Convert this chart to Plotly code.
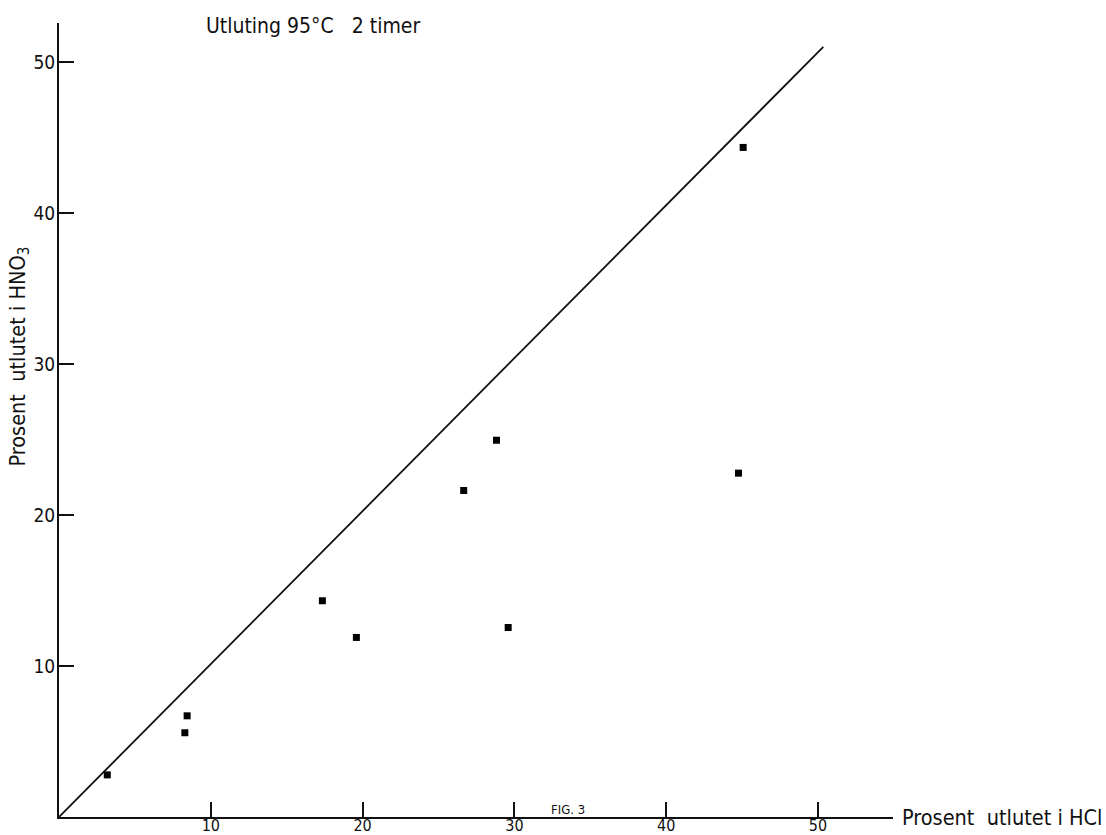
import plotly.graph_objects as go

# Leaching results: percent leached in HCl (x) vs percent leached in HNO3 (y)
hcl_pct = [3.18, 8.29, 8.44, 17.35, 19.59, 26.66, 28.82, 29.59, 44.76, 45.07]
hno3_pct = [2.79, 5.58, 6.70, 14.32, 11.89, 21.62, 24.95, 12.55, 22.77, 44.34]

# Reference line (equal leaching)
ref_x = [0, 50.35]
ref_y = [0, 51.0]

tick_vals = [10, 20, 30, 40, 50]
tick_text = ["10", "20", "30", "40", "50"]

FONT = "DejaVu Sans Condensed, DejaVu Sans, sans-serif"

fig = go.Figure()

fig.add_trace(go.Scatter(
    x=ref_x, y=ref_y, mode="lines",
    line=dict(color="#111111", width=1.8),
    hoverinfo="skip", showlegend=False,
))

fig.add_trace(go.Scatter(
    x=hcl_pct, y=hno3_pct, mode="markers",
    marker=dict(symbol="square", size=7, color="#000000",
                line=dict(width=0)),
    showlegend=False,
))

fig.update_layout(
    width=1106, height=835,
    margin=dict(l=59, r=213, t=23, b=18),
    paper_bgcolor="white", plot_bgcolor="white",
    font=dict(family=FONT, color="#111111", size=19),
    xaxis=dict(
        range=[0, 54.94], showgrid=False, zeroline=False,
        showline=True, linecolor="#111111", linewidth=2,
        ticks="inside", ticklen=15, tickwidth=1.5, tickcolor="#111111",
        tickvals=tick_vals, ticktext=tick_text,
        tickfont=dict(family=FONT, size=16, color="#111111"),
        ticklabelstandoff=-7,
        automargin=False,
    ),
    yaxis=dict(
        range=[0, 52.58], showgrid=False, zeroline=False,
        showline=True, linecolor="#111111", linewidth=2,
        ticks="inside", ticklen=15, tickwidth=1.5, tickcolor="#111111",
        tickvals=tick_vals, ticktext=tick_text,
        tickfont=dict(family=FONT, size=19, color="#111111"),
        ticklabelstandoff=-2,
        automargin=False,
    ),
)

# Title
fig.add_annotation(
    text="Utluting 95°C   2 timer", xref="paper", yref="paper",
    x=(204 - 59) / 834, y=1 + (23 - 26) / 794,
    xanchor="left", yanchor="middle", showarrow=False,
    font=dict(family=FONT, size=21, color="#111111"),
)

# Y-axis title
fig.add_annotation(
    text="Prosent  utlutet i HNO<sub>3</sub>", xref="paper", yref="paper",
    x=(19 - 59) / 834, y=(817.5 - 357) / 794,
    xanchor="center", yanchor="middle", textangle=-90, showarrow=False,
    font=dict(family=FONT, size=21.5, color="#111111"),
)

# X-axis title at the end of the axis
fig.add_annotation(
    text="Prosent  utlutet i HCl", xref="paper", yref="paper",
    x=(900 - 59) / 834, y=0,
    xanchor="left", yanchor="middle", showarrow=False,
    font=dict(family=FONT, size=21.5, color="#111111"),
)

# Figure caption
fig.add_annotation(
    text="FIG. 3", xref="paper", yref="paper",
    x=(568 - 59) / 834, y=(817.5 - 810) / 794,
    xanchor="center", yanchor="middle", showarrow=False,
    font=dict(family=FONT, size=13, color="#111111"),
)

fig.write_html("out.html")
